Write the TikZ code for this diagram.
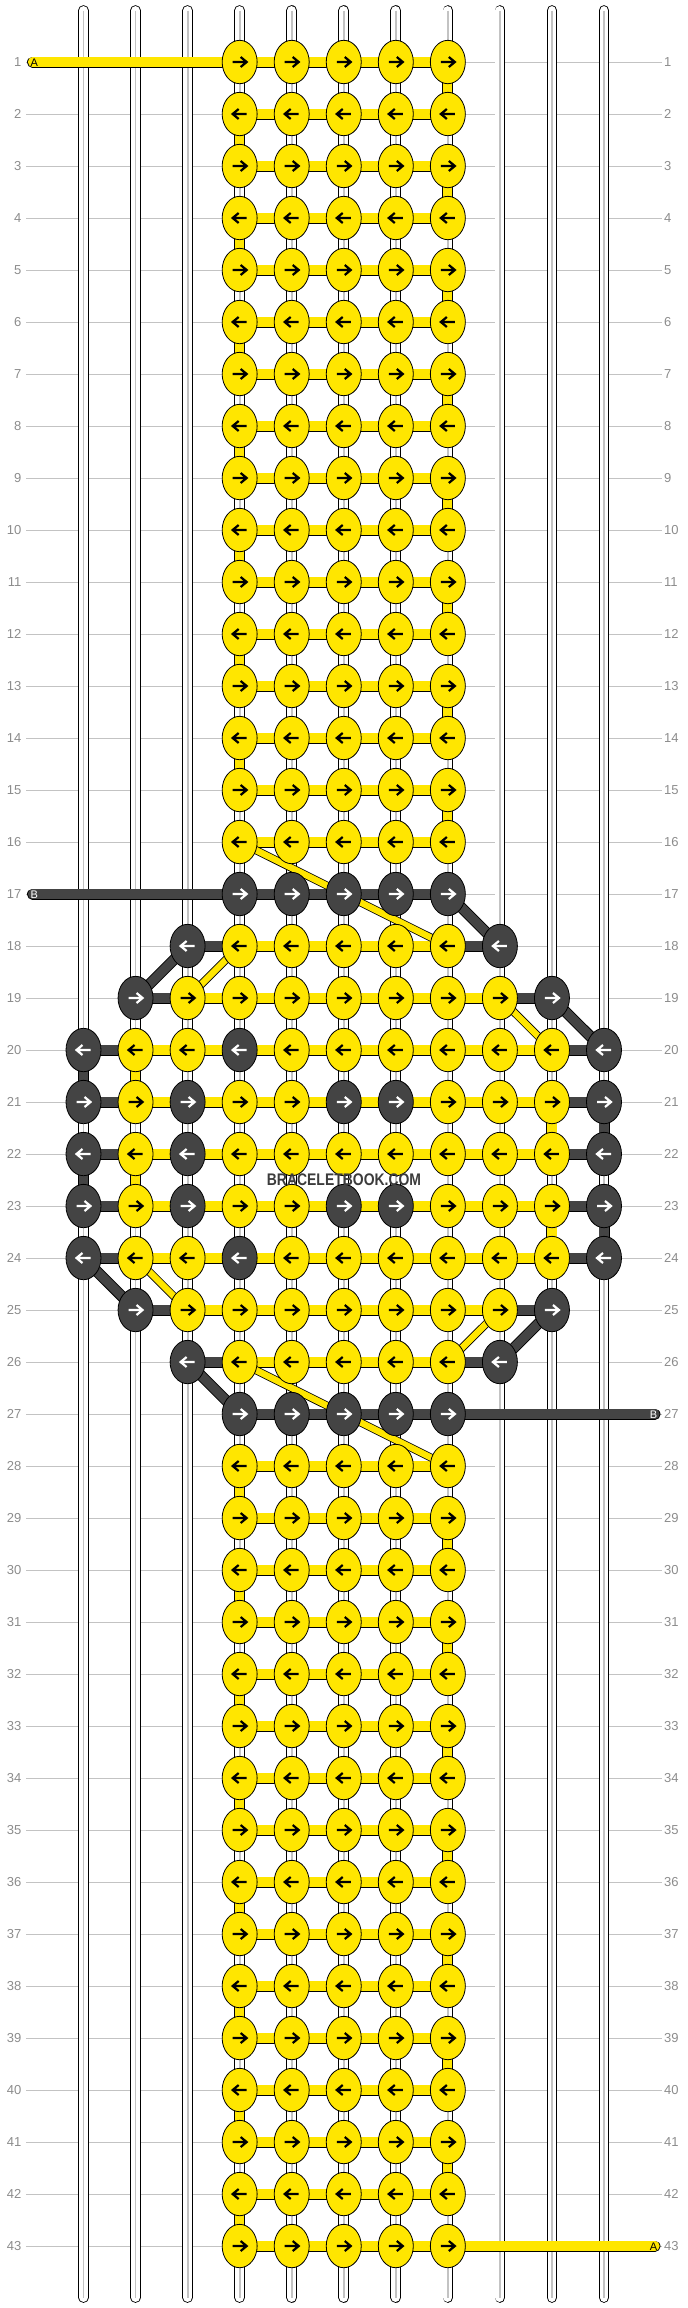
\documentclass[tikz,border=0pt]{standalone}
\usepackage{fontspec}
\setmainfont{Liberation Sans}
\usepackage{graphicx}
\usetikzlibrary{shapes.geometric}
\pgfdeclarelayer{grid}\pgfdeclarelayer{strings}\pgfdeclarelayer{bands}
\pgfsetlayers{grid,strings,bands,main}
\definecolor{colY}{RGB}{255,230,0}
\definecolor{colD}{RGB}{68,68,68}
\definecolor{rowgray}{RGB}{195,195,195}
\definecolor{labgray}{RGB}{140,140,140}
\definecolor{midgray}{RGB}{195,195,195}
\definecolor{wmgray}{RGB}{60,60,60}
\newcommand{\knotat}[4]{%
  \pgfmathsetmacro{\kx}{83.5+52.05*#1}%
  \pgfmathsetmacro{\ky}{62+52*(#2-1)}%
  \node[knot,k#3] (k-#1-#2) at (\kx,\ky) {};%
  \draw[a#3] (k-#1-#2.center) ++({-7*#4},0) -- ++({14*#4},0) ++({-6*#4},-5) -- ++({6*#4},5) -- ++({-6*#4},5);%
}
\begin{document}
\begin{tikzpicture}[x=1pt,y=-1pt,
  knot/.style={ellipse,draw=black,line width=0.8pt,minimum width=35pt,minimum height=43.4pt,inner sep=0pt},
  kY/.style={fill=colY},
  kD/.style={fill=colD},
  aY/.style={draw=black,line width=2.2pt,line join=miter},
  aD/.style={draw=white,line width=2.2pt,line join=miter},
  bandY/.style={draw=black,line width=0.9pt,double=colY,double distance=9.2pt},
  bandD/.style={draw=black,line width=0.9pt,double=colD,double distance=9.2pt},
  thinY/.style={draw=black,line width=0.8pt,double=colY,double distance=6.4pt},
  strand/.style={draw=black,line width=0.9pt,double=white,double distance=8.9pt,line cap=round},
  midline/.style={draw=midgray,line width=1.8pt},
  rowline/.style={draw=rowgray,line width=1pt},
  lab/.style={text=labgray,font=\fontsize{13}{15}\selectfont,inner sep=0pt},
  endlab/.style={font=\fontsize{11}{12}\selectfont,inner sep=0pt}
]
\useasboundingbox (0,0) rectangle (688,2308);

% ---------- knots ----------
\foreach \r in {1,...,16}{
  \pgfmathtruncatemacro\d{2*mod(\r,2)-1}
  \foreach \c in {3,...,7}{\edef\tmp{\noexpand\knotat{\c}{\r}{Y}{\d}}\tmp}
}
\foreach \r in {28,...,43}{
  \pgfmathtruncatemacro\d{2*mod(\r,2)-1}
  \foreach \c in {3,...,7}{\edef\tmp{\noexpand\knotat{\c}{\r}{Y}{\d}}\tmp}
}
\foreach \r/\lst in {
  17/{3/D,4/D,5/D,6/D,7/D},
  18/{2/D,3/Y,4/Y,5/Y,6/Y,7/Y,8/D},
  19/{1/D,2/Y,3/Y,4/Y,5/Y,6/Y,7/Y,8/Y,9/D},
  20/{0/D,1/Y,2/Y,3/D,4/Y,5/Y,6/Y,7/Y,8/Y,9/Y,10/D},
  21/{0/D,1/Y,2/D,3/Y,4/Y,5/D,6/D,7/Y,8/Y,9/Y,10/D},
  22/{0/D,1/Y,2/D,3/Y,4/Y,5/Y,6/Y,7/Y,8/Y,9/Y,10/D},
  23/{0/D,1/Y,2/D,3/Y,4/Y,5/D,6/D,7/Y,8/Y,9/Y,10/D},
  24/{0/D,1/Y,2/Y,3/D,4/Y,5/Y,6/Y,7/Y,8/Y,9/Y,10/D},
  25/{1/D,2/Y,3/Y,4/Y,5/Y,6/Y,7/Y,8/Y,9/D},
  26/{2/D,3/Y,4/Y,5/Y,6/Y,7/Y,8/D},
  27/{3/D,4/D,5/D,6/D,7/D}}{
  \pgfmathtruncatemacro\d{2*mod(\r,2)-1}
  \foreach \c/\t in \lst {\edef\tmp{\noexpand\knotat{\c}{\r}{\t}{\d}}\tmp}
}

% watermark
\node[text=wmgray,font=\bfseries\fontsize{16.8}{18}\selectfont,inner sep=0pt] (wm) at (344,1179.5) {\scalebox{0.83}[1]{BRACELETBOOK.COM}};

% ---------- grid: row lines and labels ----------
\begin{pgfonlayer}{grid}
\foreach \r in {1,...,43}{
  \pgfmathsetmacro\y{62+52*(\r-1)}
  \coordinate (rl-\r) at (26,\y);
  \coordinate (rr-\r) at (662,\y);
  \draw[rowline] (rl-\r) -- (rr-\r);
  \node[lab,anchor=east] (ll-\r) at (21.5,\y) {\r};
  \node[lab,anchor=west] (lr-\r) at (664,\y) {\r};
}
\end{pgfonlayer}

% ---------- base strings ----------
\begin{pgfonlayer}{strings}
\foreach \i in {0,...,10}{
  \pgfmathsetmacro\sx{83.5+52.05*\i}
  \coordinate (st-\i) at (\sx,10.5);
  \coordinate (sb-\i) at (\sx,2297.5);
  \draw[strand] (st-\i) -- (sb-\i);
  \draw[midline] (st-\i) -- (sb-\i);
}
\end{pgfonlayer}

% ---------- bands ----------
\begin{pgfonlayer}{bands}
% plain rows: horizontal connectors
\foreach \r in {1,...,16,28}{
  \foreach \c [evaluate=\c as \cn using int(\c+1)] in {3,...,6}
    {\draw[bandY] (k-\c-\r.center) -- (k-\cn-\r.center);}
}
\foreach \r in {29,...,43}{
  \foreach \c [evaluate=\c as \cn using int(\c+1)] in {3,...,6}
    {\draw[bandY] (k-\c-\r.center) -- (k-\cn-\r.center);}
}
% plain rows: turnarounds
\foreach \r in {1,...,15}{
  \pgfmathtruncatemacro\vc{3+4*mod(\r,2)}
  \pgfmathtruncatemacro\rn{\r+1}
  \draw[bandY] (k-\vc-\r.center) -- (k-\vc-\rn.center);
}
\foreach \r in {28,...,42}{
  \pgfmathtruncatemacro\vc{3+4*mod(\r,2)}
  \pgfmathtruncatemacro\rn{\r+1}
  \draw[bandY] (k-\vc-\r.center) -- (k-\vc-\rn.center);
}
% rows 17 and 27
\foreach \c [evaluate=\c as \cn using int(\c+1)] in {3,...,6}{
  \draw[bandD] (k-\c-17.center) -- (k-\cn-17.center);
  \draw[bandD] (k-\c-27.center) -- (k-\cn-27.center);
}
% middle rows
\foreach \r/\L/\R in {18/2/8,19/1/9,20/0/10,21/0/10,22/0/10,23/0/10,24/0/10,25/1/9,26/2/8}{
  \pgfmathtruncatemacro\La{\L+1}
  \pgfmathtruncatemacro\Rb{\R-1}
  \pgfmathtruncatemacro\Rc{\R-2}
  \draw[bandD] (k-\L-\r.center) -- (k-\La-\r.center);
  \draw[bandD] (k-\Rb-\r.center) -- (k-\R-\r.center);
  \foreach \c [evaluate=\c as \cn using int(\c+1)] in {\La,...,\Rc}
    {\draw[bandY] (k-\c-\r.center) -- (k-\cn-\r.center);}
}
% middle turnarounds
\draw[bandD] (k-0-20.center) -- (k-0-21.center);
\draw[bandY] (k-1-20.center) -- (k-1-21.center);
\draw[bandY] (k-9-21.center) -- (k-9-22.center);
\draw[bandD] (k-10-21.center) -- (k-10-22.center);
\draw[bandD] (k-0-22.center) -- (k-0-23.center);
\draw[bandY] (k-1-22.center) -- (k-1-23.center);
\draw[bandY] (k-9-23.center) -- (k-9-24.center);
\draw[bandD] (k-10-23.center) -- (k-10-24.center);
% diagonals
\draw[bandD] (k-7-17.center) -- (k-8-18.center);
\draw[bandD] (k-2-18.center) -- (k-1-19.center);
\draw[thinY] (k-3-18.center) -- (k-2-19.center);
\draw[thinY] (k-8-19.center) -- (k-9-20.center);
\draw[bandD] (k-9-19.center) -- (k-10-20.center);
\draw[bandD] (k-0-24.center) -- (k-1-25.center);
\draw[thinY] (k-1-24.center) -- (k-2-25.center);
\draw[thinY] (k-8-25.center) -- (k-7-26.center);
\draw[bandD] (k-9-25.center) -- (k-8-26.center);
\draw[bandD] (k-2-26.center) -- (k-3-27.center);
\draw[thinY] (k-3-16.center) -- (k-7-18.center);
\draw[thinY] (k-3-26.center) -- (k-7-28.center);
% free ends A and B
\coordinate (A-start) at (32.5,62);
\coordinate (A-end) at (655,2246);
\coordinate (B-start) at (32.5,894);
\coordinate (B-end) at (655,1414);
\draw[bandY,line cap=round] (A-start) -- (k-3-1.center);
\draw[bandY,line cap=round] (k-7-43.center) -- (A-end);
\draw[bandD,line cap=round] (B-start) -- (k-3-17.center);
\draw[bandD,line cap=round] (k-7-27.center) -- (B-end);
\node[endlab,anchor=west,text=black] (lA1) at (30.5,62.5) {A};
\node[endlab,anchor=east,text=black] (lA2) at (657.5,2246.5) {A};
\node[endlab,anchor=west,text=white] (lB1) at (30.5,894.5) {B};
\node[endlab,anchor=east,text=white] (lB2) at (657.5,1414.5) {B};
\end{pgfonlayer}
\end{tikzpicture}
\end{document}
